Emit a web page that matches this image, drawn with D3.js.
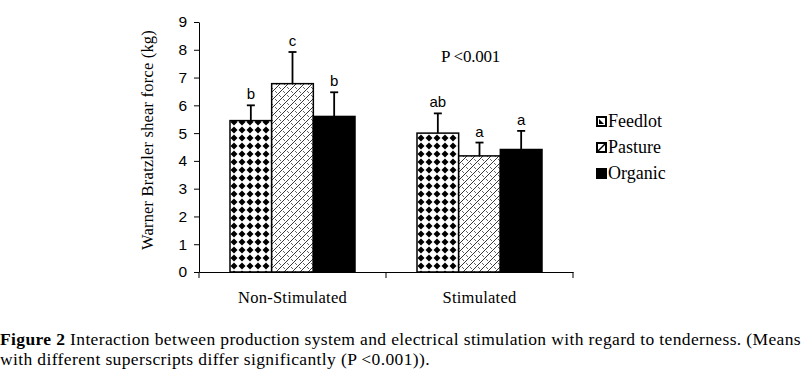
<!DOCTYPE html>
<html>
<head>
<meta charset="utf-8">
<script src="https://cdn.jsdelivr.net/npm/d3@7"></script>
<style>
  body { margin: 0; background: #fff; }
  svg { display: block; }
</style>
</head>
<body>
<svg id="chart" width="803" height="373"></svg>
<script>
// data
const groups = ["Non-Stimulated", "Stimulated"];
const systems = ["Feedlot", "Pasture", "Organic"];
const means = [[5.45, 6.78, 5.6], [5.0, 4.18, 4.41]];
const errs = [[0.55, 1.14, 0.87], [0.71, 0.48, 0.67]];
const letters = [["b", "c", "b"], ["ab", "a", "a"]];
const yTicks = [0, 1, 2, 3, 4, 5, 6, 7, 8, 9];

const serif = "Liberation Serif, Times New Roman, serif";
const sans = "Liberation Sans, Arial, sans-serif";

const svg = d3.select("#chart");
const margin = { left: 199, top: 22, right: 230, bottom: 101 };
const W = 803 - margin.left - margin.right;
const H = 373 - margin.top - margin.bottom;

// stretch a text node to a target width with letter spacing
function fitWidth(node, target) {
  const w = node.getComputedTextLength();
  const n = node.textContent.length;
  d3.select(node).attr("letter-spacing", ((target - w) / n) + "px");
}

const defs = svg.append("defs");
// diamond grid for feedlot
const p1 = defs.append("pattern").attr("id", "pFeed").attr("patternUnits", "userSpaceOnUse")
    .attr("width", 8).attr("height", 8);
p1.append("rect").attr("width", 8).attr("height", 8).attr("fill", "#fff");
p1.append("path").attr("d", "M4,0.5 L7.5,4 L4,7.5 L0.5,4 Z").attr("fill", "#000");
// hatch for pasture
const p2 = defs.append("pattern").attr("id", "pPast").attr("patternUnits", "userSpaceOnUse")
    .attr("width", 8).attr("height", 8);
p2.append("rect").attr("width", 8).attr("height", 8).attr("fill", "#fff");
p2.append("path").attr("d", "M0,8 L8,0 M-2,2 L2,-2 M6,10 L10,6").attr("stroke", "#000").attr("stroke-width", 0.8);
p2.append("path").attr("d", "M1,1 L3,3 M5,5 L7,7").attr("stroke", "#000").attr("stroke-width", 0.6);
const fills = ["url(#pFeed)", "url(#pPast)", "#000"];

const g = svg.append("g").attr("transform", `translate(${margin.left},${margin.top})`);

const x0 = d3.scaleBand().domain(groups).range([0, W]).paddingInner(0).paddingOuter(0);
const x1 = d3.scaleBand().domain(systems).range([0, 125]);
const y = d3.scaleLinear().domain([0, 9]).range([H, 0]);

const grp = g.selectAll(".grp").data(groups).join("g")
    .attr("transform", d => `translate(${x0(d) + (x0.bandwidth() - 125) / 2},0)`);

grp.each(function (gname, gi) {
  const sel = d3.select(this);
  systems.forEach((s, si) => {
    const v = means[gi][si], e = errs[gi][si];
    const cx = x1(s) + x1.bandwidth() / 2;
    // error bar
    sel.append("line").attr("x1", cx).attr("x2", cx).attr("y1", y(v)).attr("y2", y(v + e))
        .attr("stroke", "#000").attr("stroke-width", 1.8);
    sel.append("line").attr("x1", cx - 4).attr("x2", cx + 4).attr("y1", y(v + e)).attr("y2", y(v + e))
        .attr("stroke", "#000").attr("stroke-width", 1.8);
    sel.append("rect").attr("x", x1(s)).attr("width", x1.bandwidth())
        .attr("y", y(v)).attr("height", y(0) - y(v))
        .attr("fill", fills[si]).attr("stroke", "#000").attr("stroke-width", 1.5);
    sel.append("text").attr("x", cx).attr("y", y(v + e) - 6)
        .attr("text-anchor", "middle").attr("font-family", sans)
        .attr("font-size", 15).text(letters[gi][si]);
  });
});

// axes
const yAxis = g.append("g").call(d3.axisLeft(y).tickValues(yTicks).tickSize(5).tickSizeOuter(0));
yAxis.selectAll("text").attr("font-family", sans).attr("font-size", 15.5)
    .attr("fill", "#000").attr("x", -12);

const xAxis = g.append("g").attr("transform", `translate(0,${H})`)
    .call(d3.axisBottom(x0).tickSize(0).tickSizeOuter(0));
xAxis.selectAll("text").attr("font-family", serif).attr("font-size", 16.5)
    .attr("fill", "#000").attr("dy", 0).attr("y", 31)
    .each(function (d) { fitWidth(this, d === "Stimulated" ? 74 : 109); });
// boundary ticks between categories
xAxis.selectAll(".bt").data([0, W / 2, W]).join("line")
    .attr("x1", d => d).attr("x2", d => d).attr("y1", 0).attr("y2", 6).attr("stroke", "#000");

g.append("text").attr("transform", `translate(-46,${H / 2 - 7}) rotate(-90)`)
    .attr("text-anchor", "middle").attr("font-family", serif)
    .attr("font-size", 16.5).text("Warner Bratzler shear force (kg)")
    .each(function () { fitWidth(this, 220); });

g.append("text").attr("x", 242).attr("y", 40)
    .attr("font-family", serif).attr("font-size", 17)
    .text("P <0.001")
    .each(function () { fitWidth(this, 59); });

// legend
const leg = g.append("g").attr("transform", `translate(398,95)`);
systems.forEach((s, i) => {
  const r = leg.append("g").attr("transform", `translate(0,${i * 26})`);
  r.append("rect").attr("x", 0).attr("y", 0).attr("width", 9).attr("height", 9)
      .attr("fill", fills[i] === "#000" ? "#000" : "#fff").attr("stroke", "#000").attr("stroke-width", 2);
  if (i === 0) r.append("path").attr("d", "M2,2 L2,7 L7,7 Z").attr("fill", "#000");
  if (i === 1) r.append("path").attr("d", "M1,8 L8,1").attr("stroke", "#000").attr("stroke-width", 1.5);
  r.append("text").attr("x", 11).attr("y", 10)
      .attr("font-family", serif).attr("font-size", 18).text(s);
});

// caption
const cap1 = svg.append("text").attr("font-family", serif).attr("font-size", 17.5)
    .attr("x", 0).attr("y", 345);
cap1.append("tspan").attr("font-weight", "bold").text("Figure 2");
cap1.append("tspan").text(" Interaction between production system and electrical stimulation with regard to tenderness. (Means");
const cap2 = svg.append("text").attr("font-family", serif).attr("font-size", 17.5)
    .attr("x", 0).attr("y", 365)
    .text("with different superscripts differ significantly (P <0.001)).");
cap1.each(function () { fitWidth(this, 801); });
cap2.each(function () { fitWidth(this, 430); });
</script>
</body>
</html>
